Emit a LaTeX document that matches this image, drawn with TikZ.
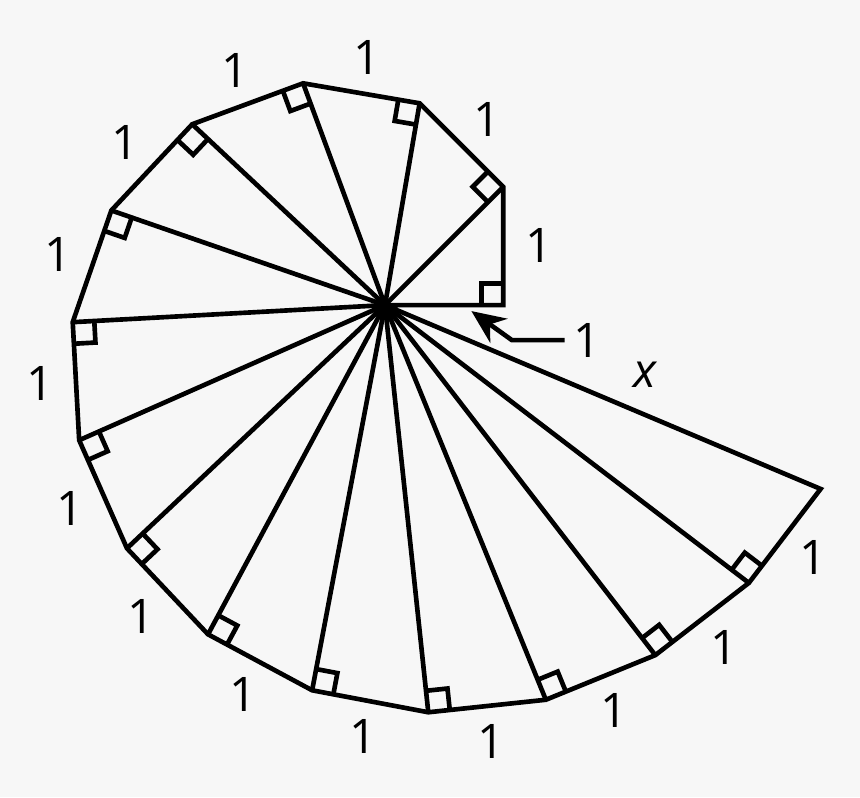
\documentclass[tikz,border=0pt]{standalone}
\usepackage{fontspec}
\setmainfont{Open Sans}
\usepackage[HTML]{xcolor}
\usetikzlibrary{arrows.meta, calc}
\definecolor{bgcol}{HTML}{F7F7F7}

\begin{document}
\begin{tikzpicture}[line width=1.1pt, line join=miter,
  lbl/.style={font=\fontsize{11.3}{13}\selectfont},
  rtmark/.style={line width=1.1pt}]
\useasboundingbox[fill=bgcol] (-3.208,-4.1) rectangle (3.958,2.542);

% centre and outer vertices (angle = sum of atan(1/sqrt k), radius = sqrt(n+1))
\coordinate (O) at (0,0);
\foreach \n/\a in {0/0, 1/45, 2/80.264, 3/110.264, 4/136.829, 5/160.924,
  6/183.132, 7/203.837, 8/223.308, 9/241.743, 10/259.291, 11/276.070,
  12/292.172, 13/307.673, 14/322.636, 15/337.114}
  \coordinate (v\n) at (\a:{0.985*sqrt(\n+1)});

% outline of the spiral
\draw (O) -- (v0) \foreach \n in {1,...,15} {-- (v\n)} -- cycle;

% inner hypotenuses
\foreach \n in {1,...,14} \draw (O) -- (v\n);

% right angles and unit sides
\foreach \m/\n/\a in {0/1/0, 1/2/45, 2/3/80.264, 3/4/110.264, 4/5/136.829,
  5/6/160.924, 6/7/183.132, 7/8/203.837, 8/9/223.308, 9/10/241.743,
  10/11/259.291, 11/12/276.070, 12/13/292.172, 13/14/307.673, 14/15/322.636}
{
  \draw[rtmark] ([shift={(\a+180:0.18)}]v\m) -- ++(\a+90:0.18) -- ++(\a:0.18);
  \node[lbl] (s\n) at ($(v\m)!0.5!(v\n) + (\a:0.3)$) {1};
}

% base and hypotenuse labels
\node[lbl, inner sep=1.5pt] (base) at (1.683,-0.292) {1};
\coordinate (tip) at (0.72,-0.05);
\draw[-{Stealth[length=8pt,width=7pt]}] (base.west) -- ++(-0.44,0) -- (tip);
\node[lbl] (hyp) at (2.175,-0.583) {\textit{x}};
\end{tikzpicture}
\end{document}
